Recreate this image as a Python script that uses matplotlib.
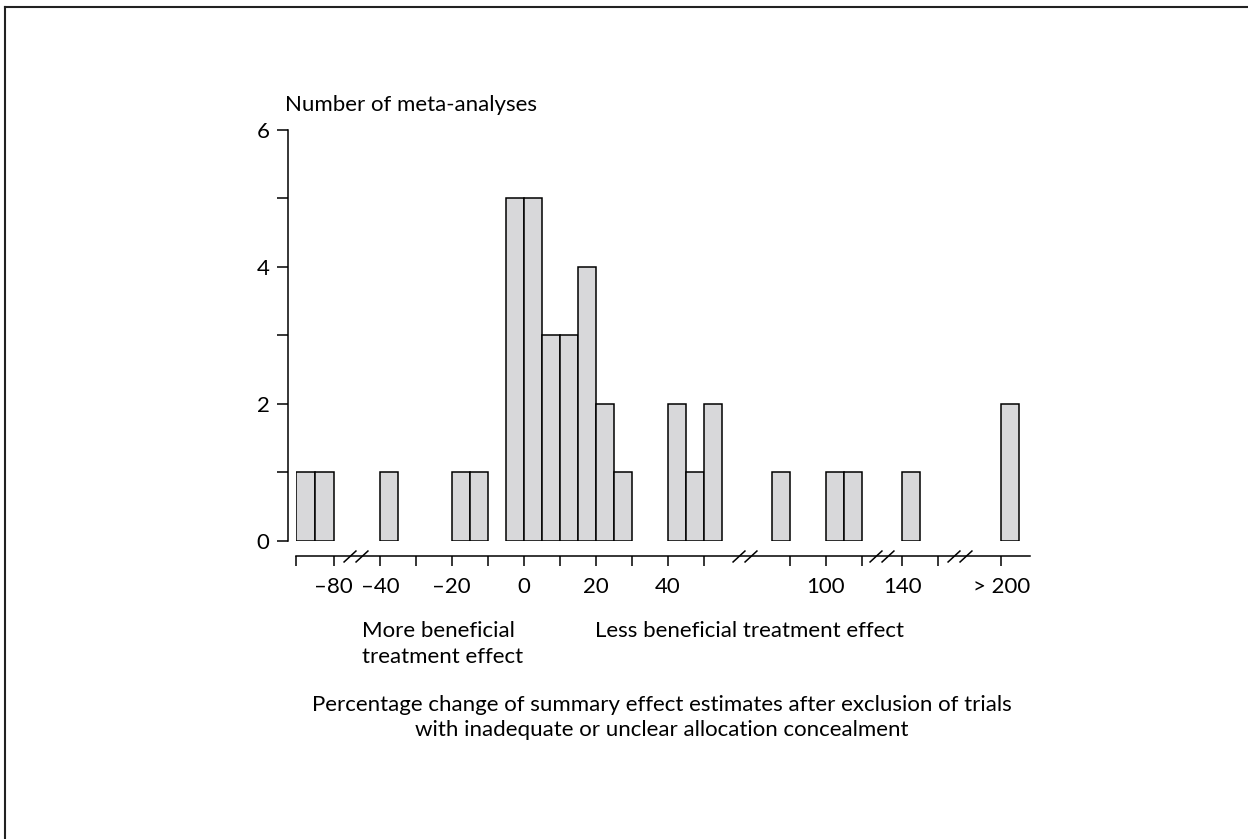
import numpy as np
import matplotlib
matplotlib.use("Agg")
import matplotlib.pyplot as plt
import matplotlib.ticker as mticker
import matplotlib.transforms as mtransforms
from matplotlib.path import Path
from matplotlib.lines import Line2D

plt.rcParams['font.family'] = ['Lato', 'DejaVu Sans']
plt.rcParams['font.size'] = 16

# histogram bins (left edge, % change) and number of meta-analyses per bin
bin_left = [-90, -85, -40, -20, -15, -5, 0, 5, 10, 15, 20, 25, 40, 45, 50, 85, 100, 105, 140, 200]
counts = [1, 1, 1, 1, 1, 5, 5, 3, 3, 4, 2, 1, 2, 1, 2, 1, 1, 1, 1, 2]
bin_width = 5

x_ticks = [-90, -80, -40, -30, -20, -10, 0, 10, 20, 30, 40, 50, 90, 100, 110, 140, 150, 200]
x_labels = ['', '\u201380', '\u201340', '', '\u201320', '', '0', '', '20', '', '40', '',
            '', '100', '', '140', '', '> 200']
y_ticks = [0, 1, 2, 3, 4, 5, 6]
y_labels = ['0', '', '2', '', '4', '', '6']

# broken axis: piecewise linear map from % change to drawing position
knots_val = [-90, -80, -40, 55, 85, 115, 140, 155, 200, 210]
knots_pos = [-63.3, -52.8, -40, 55, 69, 99, 105.2, 120, 132.7, 142.7]
breaks = [-61, 69, 117, 159]


def fwd(v):
    return np.interp(v, knots_val, knots_pos)


def inv(u):
    return np.interp(u, knots_pos, knots_val)


fig = plt.figure(figsize=(12.48, 8.39), dpi=100)
ax = fig.add_axes([296 / 1248, 1 - 540.7 / 839, (1030 - 296) / 1248, (540.7 - 129.5) / 839])
ax.set_xscale('function', functions=(fwd, inv))

ax.bar(bin_left, counts, width=bin_width, align='edge',
       color='#d8d8da', edgecolor='black', linewidth=1.1)

ax.set_xlim(-90, 208)
ax.set_ylim(0, 6)

for s in ['top', 'right']:
    ax.spines[s].set_visible(False)
ax.spines['bottom'].set_position(('outward', 11))
ax.spines['left'].set_position(('outward', 6))
ax.spines['bottom'].set_linewidth(1.1)
ax.spines['left'].set_linewidth(1.1)

ax.xaxis.set_major_locator(mticker.FixedLocator(x_ticks))
ax.xaxis.set_major_formatter(mticker.FixedFormatter(x_labels))
ax.xaxis.set_minor_locator(mticker.NullLocator())
ax.yaxis.set_major_locator(mticker.FixedLocator(y_ticks))
ax.yaxis.set_major_formatter(mticker.FixedFormatter(y_labels))
ax.tick_params(axis='x', direction='out', length=7.2, width=1.1, pad=8, labelsize=16)
ax.tick_params(axis='y', direction='out', length=8, width=1.1, pad=5, labelsize=16)

# "//" marks where the x axis is broken
slash = Path([(-13, -6), (0, 6), (-1, -6), (12, 6)],
             [Path.MOVETO, Path.LINETO, Path.MOVETO, Path.LINETO])
brk_trans = ax.get_xaxis_transform() + mtransforms.ScaledTranslation(0, -11 / 72, fig.dpi_scale_trans)
ax.plot(breaks, [0] * len(breaks), linestyle='none', marker=slash, markersize=18.7,
        markeredgecolor='black', markerfacecolor='none', markeredgewidth=1.1,
        transform=brk_trans, clip_on=False)

fig.text(285 / 1248, 1 - 105 / 839, 'Number of meta-analyses', ha='left', va='center')
fig.text(362 / 1248, 1 - 631 / 839, 'More beneficial', ha='left', va='center')
fig.text(362 / 1248, 1 - 657 / 839, 'treatment effect', ha='left', va='center')
fig.text(595 / 1248, 1 - 631 / 839, 'Less beneficial treatment effect', ha='left', va='center')
fig.text(662 / 1248, 1 - 705 / 839,
         'Percentage change of summary effect estimates after exclusion of trials',
         ha='center', va='center')
fig.text(662 / 1248, 1 - 730 / 839, 'with inadequate or unclear allocation concealment',
         ha='center', va='center')

# outer frame (top and left edges)
fig.add_artist(Line2D([4.5 / 1248, 4.5 / 1248], [0, 1 - 7 / 839], color='#222222', linewidth=1.5))
fig.add_artist(Line2D([4.5 / 1248, 1], [1 - 7 / 839, 1 - 7 / 839], color='#222222', linewidth=1.5))

fig.savefig('out.png', dpi=100)
